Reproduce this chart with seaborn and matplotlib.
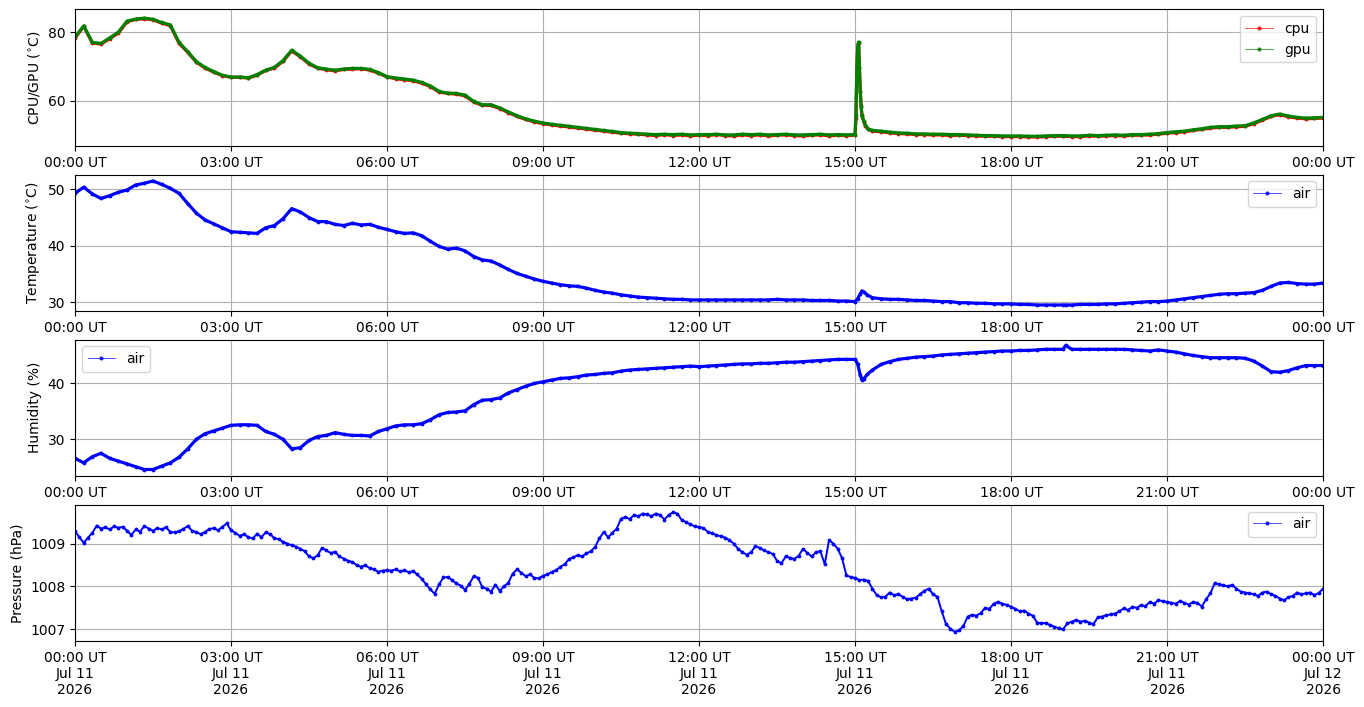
import numpy as np
import pandas as pd
import matplotlib
matplotlib.use("Agg")
import matplotlib.pyplot as plt
import matplotlib.dates as mdates
from matplotlib.lines import Line2D
from matplotlib.ticker import MultipleLocator
import seaborn as sns

START = pd.Timestamp("2026-07-11 00:00")
END = pd.Timestamp("2026-07-12 00:00")

# sampling grids (minutes after 00:00 UT)
grid10_min = list(range(0, 1441, 10))
grid5_min = list(range(0, 1441, 5))

# ---- CPU / GPU temperature (degC), one row per hour, 10-min steps ----
cpu = [
    78.3, 81.8, 76.9, 76.6, 78.2, 79.8,
    83.1, 83.8, 84.0, 83.7, 82.7, 82.0,
    76.8, 74.2, 71.3, 69.6, 68.4, 67.4,
    66.9, 66.9, 66.7, 67.5, 68.9, 69.6,
    71.6, 74.6, 72.9, 70.8, 69.6, 69.1,
    68.8, 69.2, 69.3, 69.4, 69.0, 68.1,
    67.0, 66.5, 66.2, 65.9, 65.2, 64.2,
    62.6, 62.2, 62.0, 61.5, 59.7, 58.7,
    58.7, 57.8, 56.6, 55.5, 54.6, 53.9,
    53.4, 53.0, 52.7, 52.4, 52.1, 51.8,
    51.5, 51.2, 50.9, 50.6, 50.4, 50.3,
    50.1, 49.9, 50.2, 49.9, 50.1, 49.8,
    50.0, 49.9, 50.2, 49.9, 49.8, 50.1,
    49.9, 50.1, 49.8, 50.0, 50.1, 49.9,
    49.8, 50.0, 50.1, 49.8, 50.0, 49.9,
    50.0, 54.0, 51.2, 51.0, 50.7, 50.5,
    50.4, 50.2, 50.2, 50.1, 50.1, 49.9,
    50.0, 49.9, 49.8, 49.7, 49.7, 49.6,
    49.6, 49.6, 49.5, 49.5, 49.6, 49.7,
    49.7, 49.6, 49.6, 49.8, 49.7, 49.8,
    49.9, 49.8, 50.0, 50.0, 50.1, 50.3,
    50.6, 50.8, 51.0, 51.4, 51.7, 52.1,
    52.3, 52.3, 52.5, 52.6, 53.4, 54.4,
    55.5, 56.0, 55.4, 55.0, 54.8, 54.9,
    55.0,
]
gpu = [
    78.6, 81.9, 77.1, 76.8, 78.4, 80.1,
    83.3, 83.9, 84.2, 83.8, 82.9, 82.2,
    77.1, 74.4, 71.5, 69.8, 68.6, 67.5,
    67.0, 67.0, 66.8, 67.7, 69.0, 69.8,
    71.8, 74.8, 73.1, 71.0, 69.7, 69.3,
    69.0, 69.3, 69.5, 69.5, 69.2, 68.3,
    67.1, 66.7, 66.4, 66.1, 65.4, 64.4,
    62.8, 62.3, 62.2, 61.7, 59.9, 58.9,
    58.9, 58.0, 56.8, 55.7, 54.8, 54.1,
    53.6, 53.2, 52.9, 52.6, 52.3, 52.0,
    51.7, 51.4, 51.1, 50.8, 50.6, 50.5,
    50.3, 50.2, 50.3, 50.2, 50.3, 50.1,
    50.2, 50.2, 50.3, 50.1, 50.1, 50.3,
    50.2, 50.3, 50.1, 50.2, 50.3, 50.1,
    50.1, 50.2, 50.3, 50.1, 50.2, 50.1,
    50.2, 54.2, 51.4, 51.2, 50.9, 50.7,
    50.6, 50.4, 50.4, 50.3, 50.3, 50.2,
    50.2, 50.1, 50.0, 49.9, 49.9, 49.8,
    49.8, 49.8, 49.7, 49.7, 49.8, 49.9,
    49.9, 49.8, 49.8, 50.0, 49.9, 50.0,
    50.1, 50.0, 50.2, 50.2, 50.3, 50.5,
    50.8, 51.0, 51.2, 51.6, 51.9, 52.3,
    52.5, 52.5, 52.7, 52.8, 53.6, 54.6,
    55.7, 56.2, 55.6, 55.2, 55.0, 55.1,
    55.2,
]
chip_spike_min = [901, 902, 903, 904, 905, 906, 907, 908, 912, 915]
cpu_spike = [55.0, 68.0, 75.5, 77.0, 70.0, 63.0, 58.5, 55.8, 52.8, 51.8]
gpu_spike = [56.0, 68.5, 75.8, 77.2, 69.5, 62.5, 58.3, 55.6, 52.9, 51.9]

# ---- air temperature (degC), 10-min steps ----
air_temp = [
    49.3, 50.4, 49.2, 48.4, 48.9, 49.5,
    49.9, 50.8, 51.1, 51.5, 50.9, 50.2,
    49.3, 47.5, 45.8, 44.6, 43.9, 43.2,
    42.5, 42.4, 42.3, 42.2, 43.2, 43.6,
    44.8, 46.6, 46.0, 45.0, 44.3, 44.3,
    43.8, 43.6, 44.0, 43.7, 43.8, 43.3,
    42.9, 42.5, 42.2, 42.3, 41.8, 40.8,
    39.9, 39.4, 39.6, 39.1, 38.1, 37.5,
    37.3, 36.6, 35.8, 35.1, 34.6, 34.1,
    33.7, 33.4, 33.1, 32.9, 32.8, 32.5,
    32.1, 31.8, 31.6, 31.3, 31.1, 30.9,
    30.8, 30.7, 30.6, 30.5, 30.5, 30.4,
    30.4, 30.4, 30.4, 30.4, 30.4, 30.4,
    30.4, 30.4, 30.4, 30.5, 30.4, 30.4,
    30.4, 30.3, 30.3, 30.3, 30.2, 30.2,
    30.1, 31.8, 30.8, 30.6, 30.5, 30.5,
    30.4, 30.3, 30.3, 30.2, 30.1, 30.1,
    29.9, 29.9, 29.8, 29.8, 29.7, 29.7,
    29.7, 29.6, 29.6, 29.5, 29.5, 29.5,
    29.5, 29.5, 29.6, 29.6, 29.6, 29.7,
    29.7, 29.8, 29.9, 30.0, 30.1, 30.1,
    30.2, 30.4, 30.6, 30.8, 31.0, 31.2,
    31.4, 31.5, 31.5, 31.6, 31.7, 32.1,
    32.8, 33.4, 33.5, 33.3, 33.2, 33.2,
    33.4,
]
# ---- humidity (%), 10-min steps ----
humidity = [
    26.6, 25.8, 26.9, 27.5, 26.6, 26.1,
    25.6, 25.1, 24.6, 24.6, 25.2, 25.8,
    26.8, 28.3, 30.0, 31.0, 31.5, 32.0,
    32.5, 32.6, 32.6, 32.5, 31.4, 30.9,
    30.0, 28.3, 28.5, 29.8, 30.5, 30.7,
    31.2, 30.9, 30.7, 30.7, 30.6, 31.4,
    31.9, 32.4, 32.6, 32.6, 32.8, 33.5,
    34.4, 34.8, 34.9, 35.1, 36.2, 37.0,
    37.1, 37.4, 38.3, 38.9, 39.5, 40.0,
    40.3, 40.6, 40.9, 41.0, 41.2, 41.5,
    41.6, 41.8, 41.9, 42.2, 42.4, 42.5,
    42.6, 42.7, 42.8, 42.9, 43.0, 43.1,
    43.0, 43.1, 43.2, 43.3, 43.4, 43.5,
    43.5, 43.6, 43.6, 43.7, 43.8, 43.8,
    43.9, 44.0, 44.1, 44.2, 44.3, 44.3,
    44.3, 40.8, 42.4, 43.4, 43.9, 44.3,
    44.5, 44.7, 44.8, 44.9, 45.1, 45.2,
    45.3, 45.4, 45.5, 45.6, 45.7, 45.8,
    45.8, 45.9, 45.9, 46.0, 46.1, 46.1,
    46.1, 46.1, 46.1, 46.1, 46.1, 46.1,
    46.1, 46.1, 46.0, 45.9, 45.8, 46.0,
    45.8, 45.6, 45.3, 45.0, 44.8, 44.6,
    44.6, 44.6, 44.6, 44.5, 44.0, 43.1,
    42.1, 42.0, 42.3, 42.8, 43.2, 43.2,
    43.2,
]
air_extra_min = [903, 906, 908, 914, 1143]
air_temp_extra = [30.6, 31.5, 32.0, 31.3, 29.5]
humidity_extra = [43.5, 41.5, 40.6, 41.6, 46.8]

# ---- pressure (hPa), one row per hour, 5-min steps ----
pressure = [
    1009.29, 1009.15, 1009.02, 1009.14, 1009.25, 1009.42, 1009.35, 1009.38, 1009.33, 1009.40, 1009.37, 1009.39,
    1009.30, 1009.20, 1009.33, 1009.28, 1009.41, 1009.35, 1009.30, 1009.36, 1009.33, 1009.38, 1009.27, 1009.26,
    1009.29, 1009.34, 1009.41, 1009.30, 1009.27, 1009.22, 1009.27, 1009.34, 1009.36, 1009.31, 1009.39, 1009.47,
    1009.31, 1009.25, 1009.18, 1009.22, 1009.15, 1009.12, 1009.23, 1009.15, 1009.26, 1009.22, 1009.13, 1009.10,
    1009.04, 1009.00, 1008.96, 1008.93, 1008.88, 1008.82, 1008.70, 1008.66, 1008.73, 1008.90, 1008.84, 1008.78,
    1008.81, 1008.70, 1008.65, 1008.60, 1008.57, 1008.50, 1008.46, 1008.49, 1008.43, 1008.40, 1008.34, 1008.37,
    1008.38, 1008.37, 1008.40, 1008.35, 1008.38, 1008.33, 1008.36, 1008.28, 1008.18, 1008.05, 1007.93, 1007.83,
    1008.05, 1008.21, 1008.22, 1008.15, 1008.07, 1008.02, 1007.92, 1008.06, 1008.24, 1008.20, 1007.98, 1007.95,
    1007.88, 1008.04, 1007.90, 1008.00, 1008.09, 1008.30, 1008.40, 1008.32, 1008.24, 1008.28, 1008.20, 1008.19,
    1008.25, 1008.28, 1008.34, 1008.38, 1008.46, 1008.52, 1008.64, 1008.68, 1008.73, 1008.70, 1008.77, 1008.82,
    1008.92, 1009.12, 1009.27, 1009.15, 1009.25, 1009.35, 1009.58, 1009.62, 1009.57, 1009.67, 1009.64, 1009.70,
    1009.68, 1009.64, 1009.70, 1009.67, 1009.56, 1009.67, 1009.73, 1009.70, 1009.55, 1009.50, 1009.45, 1009.40,
    1009.39, 1009.36, 1009.28, 1009.24, 1009.20, 1009.17, 1009.14, 1009.08, 1009.00, 1008.88, 1008.80, 1008.74,
    1008.80, 1008.94, 1008.90, 1008.84, 1008.80, 1008.76, 1008.60, 1008.54, 1008.70, 1008.67, 1008.64, 1008.72,
    1008.88, 1008.78, 1008.70, 1008.80, 1008.82, 1008.52, 1009.08, 1009.00, 1008.88, 1008.66, 1008.26, 1008.22,
    1008.20, 1008.15, 1008.16, 1008.13, 1007.95, 1007.80, 1007.75, 1007.76, 1007.86, 1007.80, 1007.82, 1007.76,
    1007.70, 1007.72, 1007.74, 1007.82, 1007.90, 1007.95, 1007.82, 1007.76, 1007.42, 1007.12, 1007.02, 1006.94,
    1006.98, 1007.08, 1007.30, 1007.34, 1007.32, 1007.38, 1007.50, 1007.48, 1007.60, 1007.64, 1007.60, 1007.57,
    1007.53, 1007.48, 1007.42, 1007.44, 1007.37, 1007.32, 1007.16, 1007.14, 1007.15, 1007.10, 1007.06, 1007.03,
    1007.00, 1007.14, 1007.18, 1007.22, 1007.18, 1007.20, 1007.16, 1007.12, 1007.28, 1007.30, 1007.33, 1007.35,
    1007.37, 1007.42, 1007.49, 1007.45, 1007.53, 1007.50, 1007.57, 1007.54, 1007.64, 1007.60, 1007.68, 1007.66,
    1007.64, 1007.62, 1007.60, 1007.66, 1007.62, 1007.58, 1007.64, 1007.62, 1007.53, 1007.70, 1007.84, 1008.08,
    1008.05, 1008.03, 1008.00, 1008.04, 1007.95, 1007.88, 1007.86, 1007.84, 1007.82, 1007.78, 1007.86, 1007.88,
    1007.82, 1007.78, 1007.72, 1007.68, 1007.75, 1007.78, 1007.86, 1007.82, 1007.84, 1007.86, 1007.80, 1007.85,
    1007.95,
]

y_labels = ["CPU/GPU ($^{\\circ}$C)", "Temperature ($^{\\circ}$C)", "Humidity (%)", "Pressure (hPa)"]
y_limits = [(46.9, 86.7), (28.45, 52.65), (23.45, 47.85), (1006.73, 1009.91)]
y_steps = [20, 10, 10, 1]
legend_locs = ["upper right", "upper right", "upper left", "upper right"]
line_widths = [2.3, 2.3, 2.3, 1.4]


def frame(minutes, values, extra_min=(), extra_vals=()):
    m = list(minutes) + list(extra_min)
    v = list(values) + list(extra_vals)
    assert len(m) == len(v), (len(m), len(v))
    df = pd.DataFrame({"t": START + pd.to_timedelta(m, unit="min"), "v": v})
    return df.sort_values("t").reset_index(drop=True)


panels = [
    [("cpu", "red", frame(grid10_min, cpu, chip_spike_min, cpu_spike)),
     ("gpu", "green", frame(grid10_min, gpu, chip_spike_min, gpu_spike))],
    [("air", "blue", frame(grid10_min, air_temp, air_extra_min, air_temp_extra))],
    [("air", "blue", frame(grid10_min, humidity, air_extra_min, humidity_extra))],
    [("air", "blue", frame(grid5_min, pressure))],
]

fig, axes = plt.subplots(4, 1, figsize=(13.64, 7.07), dpi=100)
fig.subplots_adjust(left=0.055, right=0.97, top=0.9866, bottom=0.0934, hspace=0.21)

for i, ax in enumerate(axes):
    handles = []
    for name, col, df in panels[i]:
        sns.lineplot(data=df, x="t", y="v", ax=ax, color=col, linewidth=line_widths[i],
                     marker=".", markersize=5.5, markeredgecolor=col, markeredgewidth=0,
                     estimator=None, sort=True, legend=False)
        handles.append(Line2D([], [], color=col, linewidth=0.6, alpha=0.8,
                              marker=".", markersize=4, label=name))
    ax.set_xlabel("")
    ax.set_ylabel(y_labels[i])
    ax.set_xlim(START, END)
    ax.set_ylim(*y_limits[i])
    ax.yaxis.set_major_locator(MultipleLocator(y_steps[i]))
    ax.xaxis.set_major_locator(mdates.HourLocator(byhour=range(0, 24, 3)))
    if i < 3:
        ax.xaxis.set_major_formatter(mdates.DateFormatter("%H:%M UT"))
    else:
        ax.xaxis.set_major_formatter(mdates.DateFormatter("%H:%M UT\n%b %d\n%Y"))
    ax.grid(True)
    ax.legend(handles=handles, loc=legend_locs[i])

fig.savefig("out.png", dpi=100)
